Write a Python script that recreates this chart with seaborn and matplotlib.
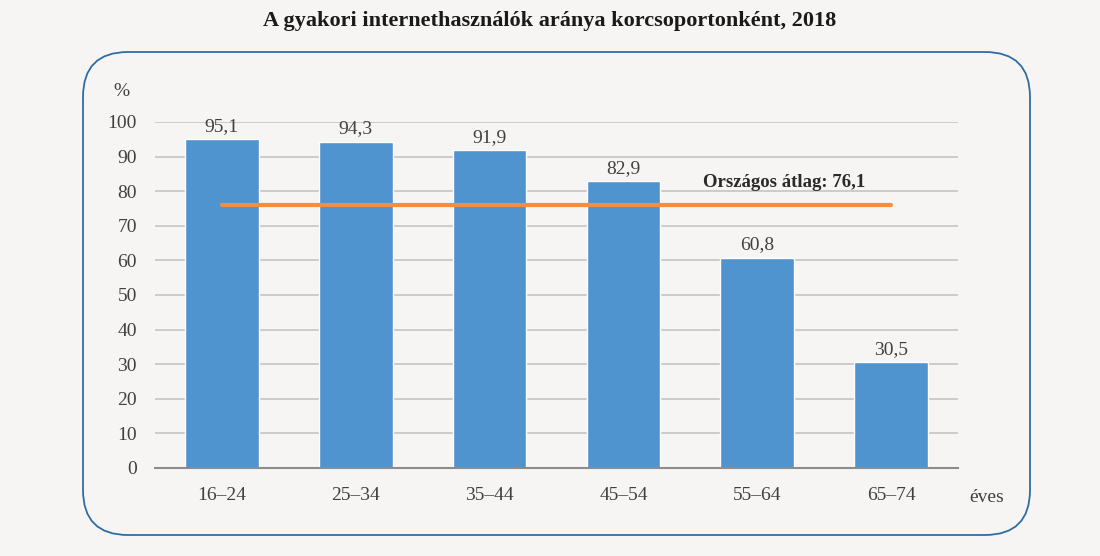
import matplotlib
matplotlib.use("Agg")
import matplotlib.pyplot as plt
from matplotlib.patches import FancyBboxPatch
import seaborn as sns
import pandas as pd

# data
age_groups = ["16–24", "25–34", "35–44", "45–54", "55–64", "65–74"]
shares = [95.1, 94.3, 91.9, 82.9, 60.8, 30.5]
national_avg = 76.1

title = "A gyakori internethasználók aránya korcsoportonként, 2018"
avg_label = "Országos átlag: 76,1"

bg = "#f6f5f3"
bar_color = "#4f94cf"
line_color = "#f58d3f"
text_color = "#404040"

sns.set_style("white")
plt.rcParams["font.family"] = ["Liberation Serif", "DejaVu Serif"]

df = pd.DataFrame({"age": age_groups, "share": shares})

fig = plt.figure(figsize=(11, 5.56), dpi=100, facecolor=bg)
ax = fig.add_axes([0.1409, 0.1583, 0.73, 0.6223])
ax.set_facecolor(bg)

# rounded frame around the chart
frame = FancyBboxPatch((0.83, 0.21), 9.47, 4.83,
                       boxstyle="round,pad=0,rounding_size=0.45",
                       transform=fig.dpi_scale_trans, facecolor="none",
                       edgecolor="#2e6da4", linewidth=1.3, zorder=0)
fig.patches.append(frame)

sns.barplot(data=df, x="age", y="share", color=bar_color, width=0.55,
            saturation=1, ax=ax, zorder=3)

for c in ax.containers:
    ax.bar_label(c, labels=[f"{v:.1f}".replace(".", ",") for v in shares],
                 padding=3, fontsize=14, color=text_color)

# national average line
ax.plot([0, len(age_groups) - 1], [national_avg, national_avg],
        color=line_color, linewidth=3, zorder=4)
ax.text(4.2, national_avg + 6.3, avg_label, ha="center", va="center",
        fontsize=13.5, fontweight="bold", color="#2a2a2a", zorder=5)

ax.set_ylim(0, 100)
ax.set_xlim(-0.5, len(age_groups) - 0.5)
ax.set_yticks(range(0, 101, 10))
ax.yaxis.grid(True, color="#c4c4c4", linewidth=1.2, zorder=0)
ax.tick_params(axis="y", length=0, labelsize=14, labelcolor=text_color, pad=13)

# ticks at category boundaries, labels in the middle
ax.set_xticks([i - 0.5 for i in range(len(age_groups) + 1)])
ax.set_xticklabels([])
ax.set_xticks(range(len(age_groups)), minor=True)
ax.set_xticklabels(age_groups, minor=True)
ax.tick_params(axis="x", which="major", length=8, width=1.5, color="#8c8c8c",
               direction="out")
ax.tick_params(axis="x", which="minor", length=0, labelsize=14,
               labelcolor=text_color, pad=14)

for side in ["top", "right", "left"]:
    ax.spines[side].set_visible(False)
ax.spines["bottom"].set_color("#8c8c8c")
ax.spines["bottom"].set_linewidth(1.5)
ax.spines["bottom"].set_zorder(5)

ax.set_xlabel("")
ax.set_ylabel("")

fig.text(0.1105, 0.835, "%", fontsize=14, color=text_color, ha="center", va="center")
fig.text(0.897, 0.106, "éves", fontsize=14, color=text_color, ha="center", va="center")
fig.text(0.5, 0.962, title, fontsize=16, fontweight="bold", color="#1a1a1a",
         ha="center", va="center")

fig.savefig("out.png", dpi=100, facecolor=bg)
